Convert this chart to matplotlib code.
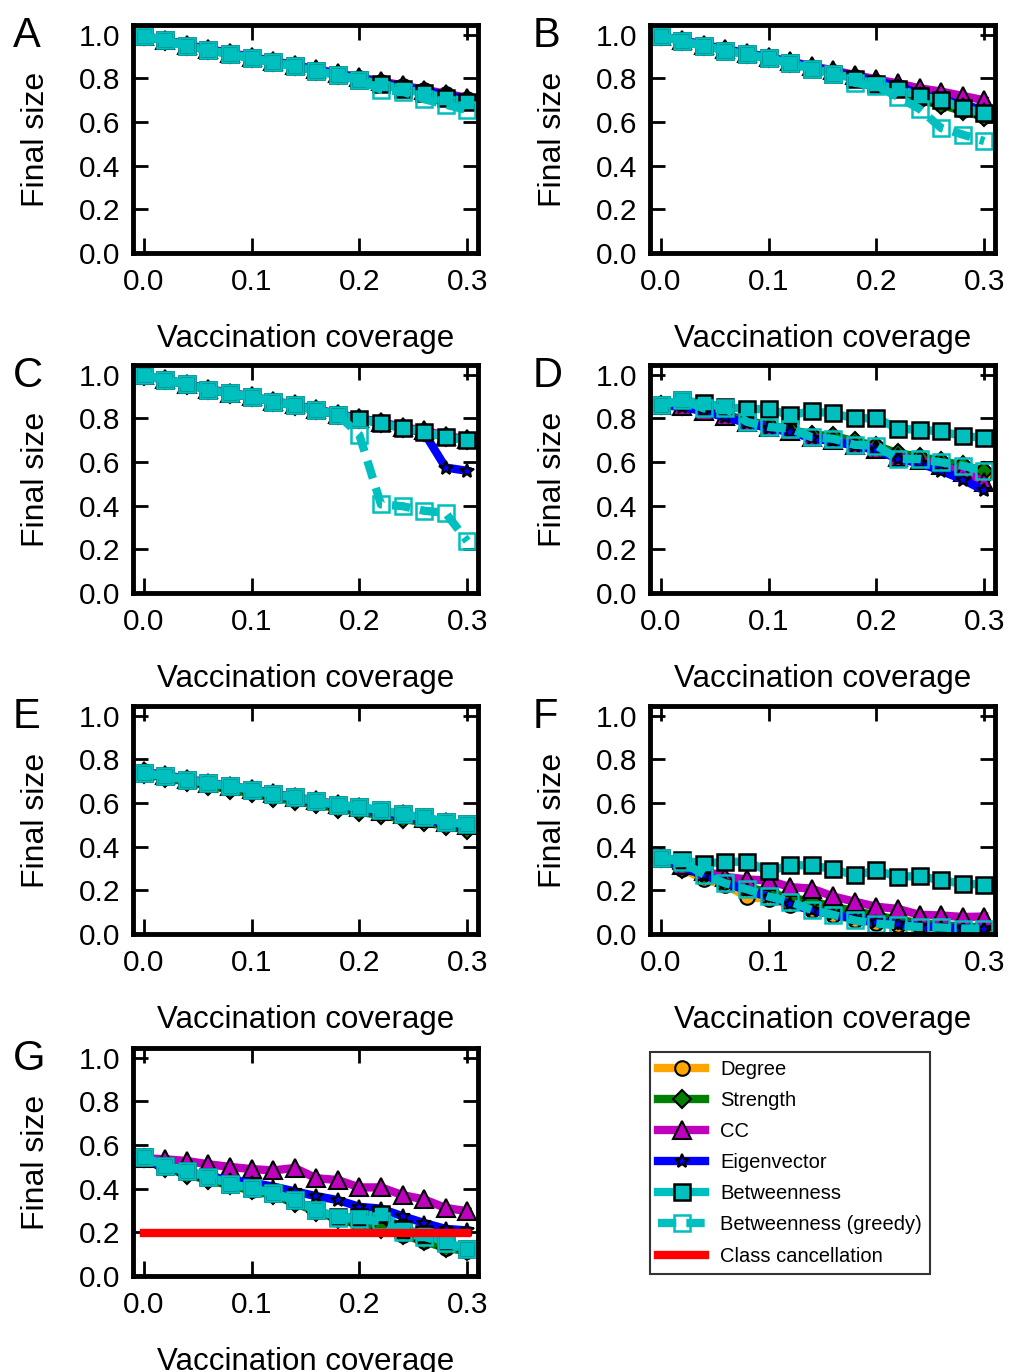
import matplotlib
matplotlib.use("Agg")
import matplotlib.pyplot as plt

plt.rcParams['font.family'] = ['Liberation Sans', 'DejaVu Sans']

# ---------------- data ----------------
coverage = [0.00, 0.02, 0.04, 0.06, 0.08, 0.10, 0.12, 0.14, 0.16, 0.18,
            0.20, 0.22, 0.24, 0.26, 0.28, 0.30]

series_names = ["Degree", "Strength", "CC", "Eigenvector", "Betweenness",
                "Betweenness (greedy)"]
panel_letters = ["A", "B", "C", "D", "E", "F", "G"]
x_ticks = [0.0, 0.1, 0.2, 0.3]
y_ticks = [0.0, 0.2, 0.4, 0.6, 0.8, 1.0]

# Panel A
A_degree = [0.995, 0.975, 0.953, 0.933, 0.915, 0.897, 0.878, 0.860, 0.840, 0.821, 0.802, 0.784, 0.765, 0.745, 0.727, 0.708]
A_strength = [0.993, 0.972, 0.950, 0.930, 0.912, 0.893, 0.874, 0.855, 0.836, 0.817, 0.798, 0.779, 0.760, 0.740, 0.721, 0.702]
A_cc = [0.995, 0.976, 0.955, 0.935, 0.917, 0.899, 0.880, 0.862, 0.843, 0.824, 0.805, 0.787, 0.768, 0.749, 0.730, 0.712]
A_eigen = [0.995, 0.975, 0.953, 0.933, 0.914, 0.896, 0.877, 0.858, 0.839, 0.820, 0.801, 0.782, 0.763, 0.744, 0.725, 0.706]
A_betw = [0.995, 0.974, 0.950, 0.930, 0.912, 0.893, 0.874, 0.855, 0.835, 0.814, 0.794, 0.775, 0.752, 0.732, 0.712, 0.692]
A_greedy = [0.995, 0.974, 0.950, 0.930, 0.912, 0.893, 0.874, 0.855, 0.835, 0.814, 0.794, 0.748, 0.740, 0.705, 0.680, 0.655]

# Panel B
B_degree = [0.993, 0.972, 0.951, 0.930, 0.911, 0.892, 0.871, 0.850, 0.829, 0.807, 0.785, 0.762, 0.705, 0.685, 0.655, 0.630]
B_strength = [0.993, 0.972, 0.951, 0.930, 0.911, 0.892, 0.871, 0.849, 0.828, 0.806, 0.783, 0.760, 0.700, 0.680, 0.650, 0.625]
B_cc = [0.995, 0.975, 0.955, 0.935, 0.917, 0.898, 0.878, 0.857, 0.837, 0.816, 0.796, 0.777, 0.755, 0.740, 0.720, 0.700]
B_eigen = [0.995, 0.974, 0.953, 0.932, 0.914, 0.895, 0.875, 0.853, 0.832, 0.810, 0.788, 0.766, 0.730, 0.705, 0.680, 0.655]
B_betw = [0.995, 0.970, 0.950, 0.928, 0.910, 0.892, 0.870, 0.845, 0.822, 0.799, 0.773, 0.752, 0.720, 0.700, 0.665, 0.640]
B_greedy = [0.995, 0.970, 0.950, 0.928, 0.910, 0.892, 0.870, 0.845, 0.822, 0.780, 0.765, 0.716, 0.660, 0.573, 0.543, 0.513]

# Panel C
C_degree = [0.998, 0.978, 0.958, 0.934, 0.917, 0.900, 0.879, 0.862, 0.840, 0.820, 0.799, 0.782, 0.758, 0.742, 0.718, 0.703]
C_strength = [0.996, 0.976, 0.955, 0.932, 0.914, 0.897, 0.876, 0.859, 0.837, 0.817, 0.796, 0.779, 0.755, 0.739, 0.715, 0.700]
C_cc = [0.998, 0.979, 0.959, 0.935, 0.918, 0.902, 0.880, 0.864, 0.842, 0.822, 0.801, 0.784, 0.760, 0.745, 0.720, 0.705]
C_eigen = [0.998, 0.977, 0.957, 0.933, 0.915, 0.899, 0.877, 0.861, 0.839, 0.819, 0.798, 0.781, 0.757, 0.735, 0.575, 0.560]
C_betw = [1.000, 0.977, 0.957, 0.932, 0.915, 0.899, 0.877, 0.861, 0.838, 0.818, 0.797, 0.780, 0.755, 0.740, 0.715, 0.700]
C_greedy = [1.000, 0.977, 0.957, 0.932, 0.915, 0.899, 0.877, 0.861, 0.838, 0.818, 0.724, 0.406, 0.398, 0.377, 0.367, 0.238]

# Panel D
D_degree = [0.862, 0.855, 0.838, 0.812, 0.785, 0.762, 0.745, 0.716, 0.700, 0.685, 0.668, 0.632, 0.615, 0.592, 0.568, 0.540]
D_strength = [0.862, 0.858, 0.840, 0.818, 0.790, 0.768, 0.750, 0.725, 0.720, 0.695, 0.675, 0.640, 0.625, 0.605, 0.585, 0.560]
D_cc = [0.862, 0.855, 0.836, 0.810, 0.785, 0.760, 0.742, 0.714, 0.700, 0.680, 0.662, 0.625, 0.608, 0.585, 0.555, 0.510]
D_eigen = [0.862, 0.852, 0.833, 0.805, 0.780, 0.755, 0.738, 0.710, 0.695, 0.675, 0.655, 0.615, 0.595, 0.560, 0.520, 0.470]
D_betw = [0.862, 0.884, 0.869, 0.853, 0.843, 0.843, 0.815, 0.833, 0.823, 0.800, 0.802, 0.753, 0.748, 0.741, 0.719, 0.712]
D_greedy = [0.862, 0.884, 0.846, 0.846, 0.784, 0.761, 0.753, 0.714, 0.707, 0.679, 0.676, 0.614, 0.614, 0.599, 0.583, 0.560]

# Panel E
E_degree = [0.745, 0.728, 0.712, 0.693, 0.678, 0.661, 0.641, 0.624, 0.607, 0.590, 0.575, 0.561, 0.543, 0.527, 0.508, 0.495]
E_strength = [0.735, 0.715, 0.698, 0.680, 0.662, 0.645, 0.625, 0.610, 0.595, 0.575, 0.560, 0.545, 0.528, 0.512, 0.495, 0.478]
E_cc = [0.745, 0.728, 0.712, 0.693, 0.680, 0.664, 0.645, 0.628, 0.612, 0.595, 0.580, 0.565, 0.548, 0.532, 0.513, 0.500]
E_eigen = [0.742, 0.725, 0.709, 0.690, 0.676, 0.660, 0.640, 0.623, 0.606, 0.590, 0.574, 0.560, 0.542, 0.526, 0.508, 0.493]
E_betw = [0.738, 0.723, 0.708, 0.690, 0.677, 0.662, 0.640, 0.626, 0.608, 0.592, 0.580, 0.569, 0.549, 0.534, 0.514, 0.503]
E_greedy = [0.738, 0.723, 0.708, 0.690, 0.677, 0.662, 0.640, 0.626, 0.608, 0.592, 0.580, 0.569, 0.549, 0.534, 0.514, 0.503]

# Panel F
F_degree = [0.350, 0.300, 0.250, 0.225, 0.170, 0.160, 0.135, 0.110, 0.085, 0.065, 0.050, 0.040, 0.030, 0.025, 0.020, 0.020]
F_strength = [0.350, 0.300, 0.270, 0.240, 0.215, 0.190, 0.165, 0.150, 0.125, 0.105, 0.085, 0.065, 0.050, 0.040, 0.035, 0.030]
F_cc = [0.350, 0.315, 0.290, 0.262, 0.250, 0.245, 0.215, 0.208, 0.172, 0.148, 0.125, 0.115, 0.088, 0.085, 0.078, 0.080]
F_eigen = [0.350, 0.310, 0.270, 0.235, 0.200, 0.170, 0.138, 0.108, 0.090, 0.069, 0.055, 0.046, 0.035, 0.030, 0.026, 0.022]
F_betw = [0.349, 0.338, 0.323, 0.331, 0.331, 0.288, 0.315, 0.315, 0.297, 0.269, 0.292, 0.262, 0.266, 0.246, 0.231, 0.226]
F_greedy = [0.350, 0.330, 0.272, 0.232, 0.205, 0.172, 0.148, 0.110, 0.088, 0.062, 0.048, 0.040, 0.032, 0.030, 0.025, 0.024]

# Panel G
G_degree = [0.545, 0.500, 0.470, 0.445, 0.420, 0.395, 0.375, 0.340, 0.300, 0.270, 0.240, 0.220, 0.190, 0.160, 0.130, 0.115]
G_strength = [0.540, 0.495, 0.465, 0.440, 0.415, 0.392, 0.370, 0.335, 0.295, 0.262, 0.235, 0.215, 0.188, 0.160, 0.128, 0.115]
G_cc = [0.540, 0.535, 0.527, 0.512, 0.500, 0.490, 0.484, 0.495, 0.448, 0.440, 0.406, 0.406, 0.371, 0.351, 0.312, 0.297]
G_eigen = [0.540, 0.495, 0.480, 0.456, 0.440, 0.428, 0.410, 0.388, 0.366, 0.348, 0.317, 0.309, 0.274, 0.243, 0.216, 0.209]
G_betw = [0.546, 0.505, 0.479, 0.456, 0.422, 0.402, 0.379, 0.348, 0.301, 0.270, 0.270, 0.286, 0.216, 0.193, 0.155, 0.124]
G_greedy = [0.546, 0.505, 0.479, 0.456, 0.422, 0.402, 0.379, 0.348, 0.301, 0.268, 0.260, 0.250, 0.200, 0.180, 0.150, 0.122]
G_class = [0.195, 0.195, 0.195, 0.195, 0.195, 0.195, 0.195, 0.195, 0.195, 0.195, 0.195, 0.195, 0.195, 0.195, 0.195, 0.195]

panels = {
    "A": [A_degree, A_strength, A_cc, A_eigen, A_betw, A_greedy],
    "B": [B_degree, B_strength, B_cc, B_eigen, B_betw, B_greedy],
    "C": [C_degree, C_strength, C_cc, C_eigen, C_betw, C_greedy],
    "D": [D_degree, D_strength, D_cc, D_eigen, D_betw, D_greedy],
    "E": [E_degree, E_strength, E_cc, E_eigen, E_betw, E_greedy],
    "F": [F_degree, F_strength, F_cc, F_eigen, F_betw, F_greedy],
    "G": [G_degree, G_strength, G_cc, G_eigen, G_betw, G_greedy],
}

# ---------------- styles ----------------
LW = 6
styles = [
    dict(color='#FFA500', marker='o', ms=10.5, mfc='#FFA500', mec='k', mew=1.5, ls='-'),
    dict(color='#008000', marker='D', ms=9.5, mfc='#008000', mec='k', mew=1.5, ls='-'),
    dict(color='#BF00BF', marker='^', ms=12.5, mfc='#BF00BF', mec='k', mew=1.5, ls='-'),
    dict(color='#0000FF', marker='*', ms=10.5, mfc='#0000FF', mec='k', mew=1.5, ls='-'),
    dict(color='#00BFBF', marker='s', ms=12, mfc='#00BFBF', mec='k', mew=1.8, ls='-'),
    dict(color='#00BFBF', marker='s', ms=12, mfc='none', mec='#00BFBF', mew=1.8,
         ls=(0, (2.2, 1.2))),
]

W, H = 1009, 1372
fig = plt.figure(figsize=(W / 100, H / 100), dpi=100)

col_left = [133, 650]
ax_w = 345
ax_h = 228
row_top = [25, 365, 706, 1048]

handles, labels = None, None
for idx, letter in enumerate(panel_letters):
    r, c = divmod(idx, 2)
    left = col_left[c]
    top = row_top[r]
    ax = fig.add_axes([left / W, 1 - (top + ax_h) / H, ax_w / W, ax_h / H])
    for data, st, name in zip(panels[letter], styles, series_names):
        ax.plot(coverage, data, lw=LW, label=name, **st)
    if letter == "G":
        ax.plot(coverage, G_class, color='#FF0000', lw=LW, label="Class cancellation")
    ax.set_xlim(-0.01, 0.31)
    ax.set_ylim(0, 1.045)
    ax.set_xticks(x_ticks)
    ax.set_xticklabels(["%.1f" % t for t in x_ticks])
    ax.set_yticks(y_ticks)
    ax.set_yticklabels(["%.1f" % t for t in y_ticks])
    ax.tick_params(direction='in', length=11, width=2, top=True, right=True,
                   labelsize=21.5)
    ax.tick_params(axis='x', pad=11)
    ax.tick_params(axis='y', pad=9)
    for sp in ax.spines.values():
        sp.set_linewidth(3.5)
    ax.set_xlabel("Vaccination coverage", fontsize=22.5, labelpad=20)
    ax.set_ylabel("Final size", fontsize=23, labelpad=20)
    fig.text((13 if c == 0 else 533) / W, 1 - (top + 22) / H, letter,
             fontsize=30, va='baseline', ha='left')
    if letter == "G":
        handles, labels = ax.get_legend_handles_labels()

leg = fig.legend(handles, labels, loc='upper left',
                 bbox_to_anchor=(650 / W, 1 - 1052 / H), borderaxespad=0,
                 fontsize=14.5, handlelength=2.35, handletextpad=0.75,
                 labelspacing=0.6, borderpad=0.4, frameon=True,
                 fancybox=False, numpoints=1)
leg.get_frame().set_edgecolor('k')
leg.get_frame().set_linewidth(1.5)

fig.savefig("out.png", dpi=100)
